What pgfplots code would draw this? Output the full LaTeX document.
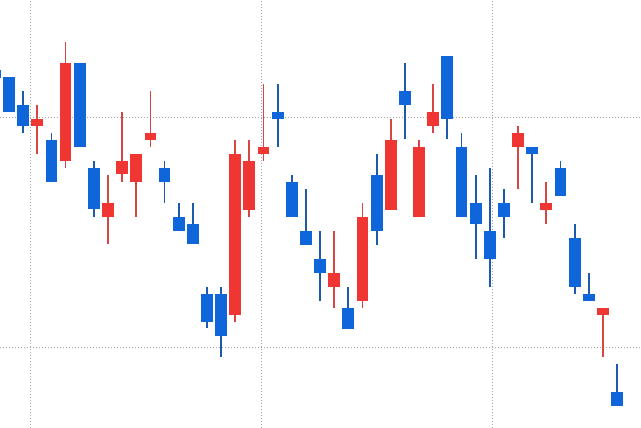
\documentclass[border=0pt]{standalone}
\usepackage{pgfplots}
\usepackage{pgfplotstable}
\pgfplotsset{compat=1.18}
\definecolor{cblue}{RGB}{14,102,218}
\definecolor{cred}{RGB}{240,54,50}
\definecolor{wblue}{RGB}{30,90,170}
\definecolor{wred}{RGB}{214,70,66}
\pgfplotstableread{
i O H L C
3 109.62 110.52 108.40 109.93
5 108.10 113.26 107.80 112.35
8 105.67 107.48 104.47 106.26
9 107.51 110.22 107.19 108.10
10 107.19 108.39 105.67 108.39
11 109.01 111.13 108.71 109.30
17 101.39 109.00 101.10 108.39
18 105.96 109.00 105.67 108.09
19 108.39 111.43 108.09 108.70
24 102.62 105.04 101.71 103.23
26 102.01 106.26 101.71 105.67
28 105.97 109.91 105.97 109.00
30 105.67 109.00 105.67 108.71
31 109.62 111.43 109.32 110.22
37 108.71 109.62 106.87 109.32
39 105.97 107.17 105.36 106.26
43 101.40 101.70 99.58 101.70
}\redtable
\pgfplotstableread{
i O H L C
0 112.04 112.04 111.70 111.70
1 111.74 111.74 110.22 110.22
2 110.52 111.13 109.32 109.62
4 109.00 109.29 107.19 107.19
6 112.35 112.35 108.71 108.71
7 107.80 108.09 105.67 105.99
12 107.78 108.09 106.27 107.19
13 105.65 106.27 105.06 105.06
14 105.35 106.27 104.47 104.47
15 102.30 102.60 100.81 101.10
16 102.30 102.60 99.58 100.49
20 110.22 111.43 108.71 109.91
21 107.17 107.48 105.67 105.67
22 105.04 106.87 104.45 104.45
23 103.83 105.04 102.01 103.23
25 101.71 102.62 100.80 100.80
27 107.48 108.39 104.45 105.06
29 111.13 112.35 109.03 110.53
32 112.65 112.65 109.03 109.93
33 108.71 109.30 105.67 105.67
34 106.26 107.48 103.84 105.36
35 105.04 107.78 102.62 103.84
36 106.26 106.87 104.75 105.67
38 108.71 108.71 106.27 108.40
40 107.78 108.09 106.58 106.58
41 104.74 105.35 102.32 102.62
42 102.30 103.22 102.01 102.01
44 98.04 99.26 97.45 97.45
}\bluetable
\begin{document}
\begin{tikzpicture}
\begin{axis}[name=ax,
  scale only axis, width=641pt, height=428pt,
  xmin=0.3635, xmax=45.696, ymin=96.478, ymax=115.087,
  axis line style={draw=none},
  axis background/.style={fill=white},
  major tick length=0pt,
  xtick={2.506,18.87,35.18}, ytick={100,110},
  xticklabels={}, yticklabels={},
  grid=major,
  grid style={color=black!35, line width=0.7pt, dash pattern=on 0.8pt off 2.2pt},
  candle/.style={only marks, mark=*, mark size=0pt,
    mark options={draw=none, fill=none, opacity=0},
    error bars/y dir=plus, error bars/y explicit, error bars/error mark=none},
]
% wicks
\addplot[candle, error bars/error bar style={line width=1.8pt, color=wred}]
  table[x=i, y=L, y error plus expr=\thisrow{H}-\thisrow{L}] {\redtable};
\addplot[candle, error bars/error bar style={line width=1.8pt, color=wblue}]
  table[x=i, y=L, y error plus expr=\thisrow{H}-\thisrow{L}] {\bluetable};
% bodies
\addplot[candle, error bars/error bar style={line width=11.8pt, color=cred}]
  table[x=i, y=O, y error plus expr=\thisrow{C}-\thisrow{O}] {\redtable};
\addplot[candle, error bars/error bar style={line width=11.8pt, color=cblue}]
  table[x=i, y=C, y error plus expr=\thisrow{O}-\thisrow{C}] {\bluetable};
\end{axis}
\pgfresetboundingbox
\path[use as bounding box] (ax.south west) rectangle (ax.north east);
\end{tikzpicture}
\end{document}
